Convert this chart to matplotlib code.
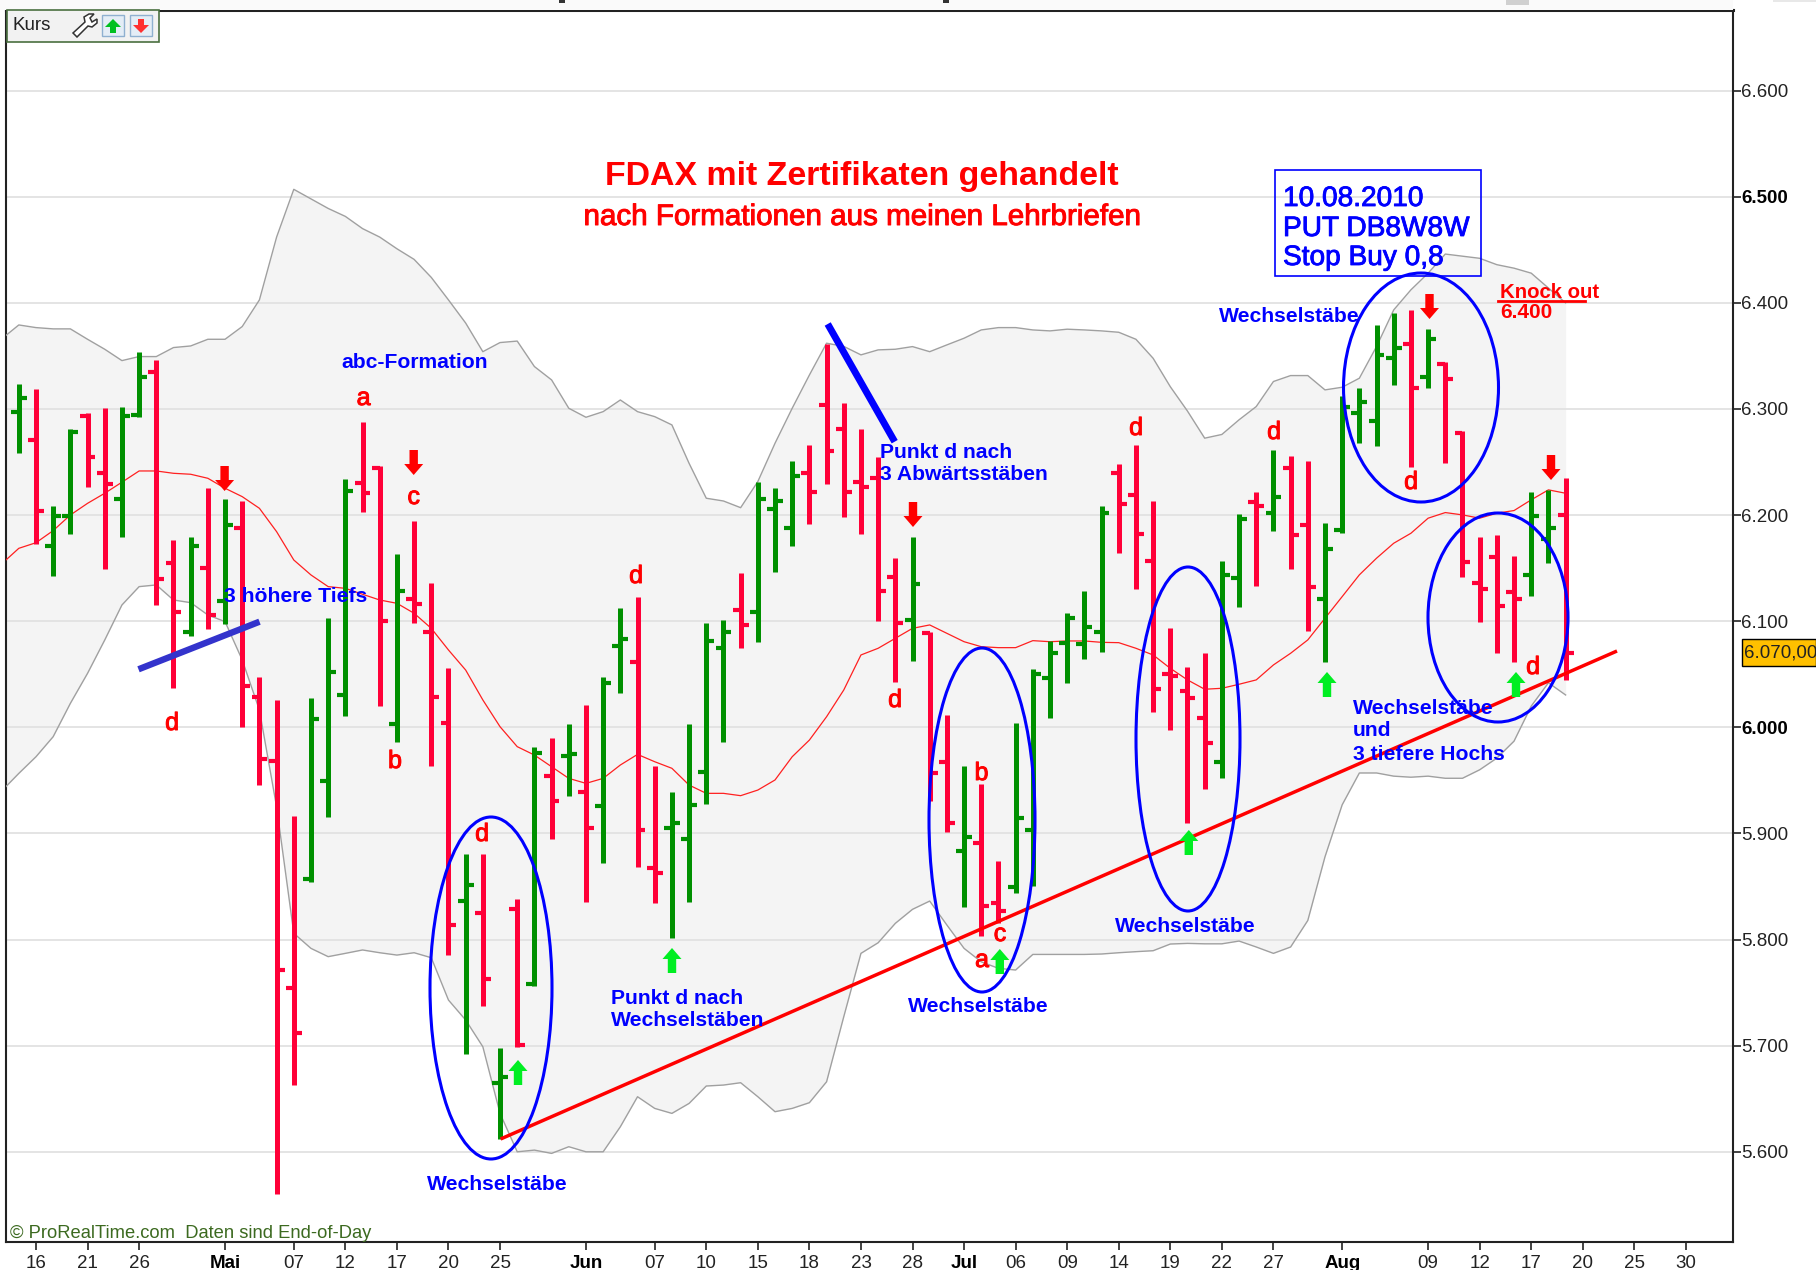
import matplotlib
matplotlib.use("Agg")
import matplotlib.pyplot as plt
import matplotlib.patheffects as pe
from matplotlib.patches import Ellipse, Polygon, Rectangle
import numpy as np

plt.rcParams['font.family'] = ['Liberation Sans', 'DejaVu Sans']

# daily bars, FDAX, 15.04. - 19.08.2010
high = [6323.6, 6318.6, 6209.0, 6280.9, 6296.0, 6300.7, 6301.6, 6354.0, 6346.2, 6176.6,
        6179.7, 6225.3, 6215.2, 6213.7, 6047.1, 6025.8, 5916.8, 6028.0, 6103.0, 6233.8,
        6287.5, 6246.6, 6163.4, 6194.5, 6135.7, 6055.6, 5880.6, 5880.6, 5698.1, 5838.2,
        5981.8, 5989.6, 6003.1, 6021.0, 6047.1, 6112.2, 6122.5, 5963.9, 5939.4, 6003.1,
        6098.0, 6101.2, 6145.2, 6231.6, 6225.3, 6251.4, 6266.1, 6361.3, 6305.4, 6280.9,
        6254.5, 6159.9, 6179.7, 6090.2, 6011.6, 5963.9, 5947.0, 5874.4, 6004.4, 6055.0,
        6081.7, 6107.5, 6128.8, 6209.0, 6248.2, 6266.1, 6213.7, 6093.3, 6057.2, 6070.4,
        6157.2, 6200.8, 6222.2, 6261.5, 6256.1, 6251.4, 6193.0, 6312.4, 6320.2, 6379.3,
        6390.3, 6393.4, 6375.5, 6344.0, 6278.8, 6179.8, 6181.4, 6161.9, 6222.2, 6223.2,
        6235.4]
low = [6258.9, 6172.8, 6143.0, 6182.2, 6226.2, 6149.6, 6179.0, 6292.0, 6115.6, 6036.8,
       6086.1, 6092.4, 6097.4, 6000.6, 5945.6, 5559.8, 5662.9, 5854.6, 5915.8, 6010.7,
       6203.3, 6020.1, 5986.2, 6098.7, 5963.6, 5785.4, 5692.1, 5737.7, 5612.0, 5699.0,
       5756.5, 5894.5, 5935.6, 5835.7, 5871.9, 6032.0, 5868.7, 5834.1, 5801.8, 5835.7,
       5927.8, 5986.5, 6074.5, 6080.7, 6146.1, 6170.9, 6191.7, 6229.4, 6198.6, 6181.9,
       6100.2, 6043.0, 6062.8, 5930.9, 5901.0, 5831.0, 5803.4, 5815.3, 5844.2, 5850.5,
       6009.1, 6041.5, 6064.4, 6071.0, 6164.0, 6130.0, 6014.1, 5997.5, 5909.5, 5941.9,
       5952.0, 6113.2, 6133.3, 6185.1, 6149.3, 6090.9, 6061.3, 6183.6, 6268.4, 6265.3,
       6322.7, 6245.8, 6319.6, 6248.9, 6141.5, 6099.0, 6069.8, 6061.3, 6123.9, 6154.7,
       6044.7]
open_ = [6297.2, 6270.8, 6171.2, 6199.2, 6293.8, 6240.0, 6215.2, 6294.4, 6334.6, 6155.2,
         6089.5, 6150.5, 6119.4, 6187.6, 6028.9, 5968.6, 5754.7, 5857.4, 5949.4, 6030.5,
         6230.6, 6244.8, 6003.1, 6121.0, 6089.5, 6004.4, 5836.7, 5824.7, 5665.1, 5828.5,
         5758.1, 5954.1, 5973.0, 5939.3, 5926.2, 6076.7, 6061.9, 5867.5, 5905.5, 5894.8,
         5957.6, 6075.1, 6110.6, 6109.0, 6205.5, 6187.6, 6240.0, 6303.5, 6280.9, 6231.6,
         6234.7, 6142.0, 6101.2, 6089.2, 5967.0, 5883.8, 5890.7, 5834.8, 5849.9, 5903.3,
         6046.2, 6079.2, 6078.6, 6089.9, 6240.0, 6219.0, 6156.8, 6050.0, 6034.3, 6009.2,
         5967.0, 6140.5, 6212.8, 6202.4, 6244.8, 6190.8, 6120.7, 6186.1, 6296.0, 6288.8,
         6347.9, 6361.1, 6330.6, 6342.2, 6277.8, 6135.8, 6160.3, 6127.3, 6143.7, 6177.3,
         6200.2]
close = [6310.4, 6204.2, 6199.2, 6278.7, 6254.5, 6229.0, 6293.5, 6329.9, 6140.1, 6109.0,
         6171.2, 6105.9, 6191.0, 6039.0, 5970.1, 5771.3, 5712.2, 6007.8, 6051.8, 6222.8,
         6220.6, 6100.5, 6128.8, 6115.9, 6028.9, 5813.7, 5851.1, 5762.8, 5670.1, 5700.6,
         5976.1, 5930.9, 5975.0, 5904.8, 6042.0, 6083.0, 5903.3, 5863.0, 5910.2, 5926.5,
         6081.7, 6089.5, 6096.5, 6215.2, 6213.7, 6236.9, 6222.1, 6260.8, 6222.1, 6226.9,
         6128.8, 6098.0, 6135.1, 5957.3, 5910.2, 5897.0, 5831.6, 5826.9, 5914.9, 6050.0,
         6069.8, 6102.8, 6094.9, 6202.3, 6210.5, 6182.2, 6035.8, 6048.0, 6027.4, 5985.0,
         6143.7, 6196.1, 6208.7, 6217.5, 6181.4, 6132.0, 6168.2, 6302.3, 6307.0, 6350.7,
         6357.9, 6320.2, 6366.1, 6328.1, 6156.2, 6130.5, 6114.4, 6120.7, 6199.3, 6187.6,
         6069.8]

# bollinger bands and their average, these start one bar before the first visible bar
upper = [6366.0, 6379.2, 6376.7, 6375.5, 6375.5, 6365.7, 6356.3, 6345.6, 6349.4, 6349.4, 6357.9,
         6359.4, 6365.7, 6365.7, 6377.7, 6402.8, 6462.0, 6507.0, 6498.0, 6489.0, 6481.5,
         6470.0, 6462.0, 6451.0, 6441.0, 6424.0, 6402.8, 6381.0, 6354.0, 6362.6, 6364.0,
         6340.0, 6327.4, 6300.7, 6292.2, 6297.5, 6308.5, 6297.5, 6292.8, 6285.0, 6248.8,
         6215.9, 6213.3, 6207.0, 6231.6, 6267.7, 6300.7, 6332.0, 6362.0, 6359.0, 6351.0,
         6355.7, 6356.3, 6358.8, 6354.0, 6360.4, 6366.7, 6374.5, 6376.7, 6376.7, 6374.5,
         6373.6, 6375.2, 6374.5, 6373.6, 6372.3, 6365.7, 6347.8, 6321.0, 6298.0, 6272.5,
         6276.0, 6289.8, 6302.3, 6325.9, 6331.5, 6331.5, 6318.0, 6320.5, 6329.0, 6358.9,
         6393.4, 6412.3, 6428.0, 6446.0, 6444.0, 6442.0, 6436.0, 6432.7, 6428.0, 6414.0,
         6400.0]
lower = [5940.0, 5956.6, 5972.3, 5991.2, 6022.6, 6050.9, 6082.3, 6115.3, 6132.6, 6134.2, 6120.0,
         6117.5, 6105.9, 6099.6, 6063.5, 6016.3, 5925.0, 5805.9, 5791.7, 5783.9, 5787.0,
         5790.2, 5787.6, 5785.4, 5787.6, 5782.9, 5743.0, 5724.2, 5699.0, 5636.2, 5600.0,
         5601.6, 5598.5, 5604.8, 5600.0, 5600.0, 5623.6, 5651.9, 5640.9, 5636.2, 5645.6,
         5662.0, 5662.9, 5665.1, 5651.9, 5637.8, 5640.9, 5646.3, 5666.0, 5727.3, 5787.0,
         5797.0, 5815.3, 5828.5, 5836.3, 5813.7, 5791.7, 5779.0, 5772.9, 5771.3, 5786.0,
         5786.0, 5786.0, 5786.0, 5786.4, 5787.6, 5788.6, 5789.5, 5795.8, 5796.4, 5796.0,
         5796.0, 5798.6, 5793.0, 5787.0, 5793.0, 5818.0, 5878.0, 5927.0, 5957.0, 5957.0,
         5954.0, 5953.0, 5954.0, 5952.0, 5952.0, 5960.0, 5971.0, 5987.0, 6020.0, 6042.0,
         6030.5]
ma20 = [6154.0, 6168.7, 6174.0, 6185.4, 6200.1, 6211.1, 6220.6, 6231.0, 6241.6, 6241.6, 6239.4,
        6238.5, 6234.7, 6225.3, 6217.4, 6206.4, 6184.4, 6157.7, 6143.6, 6132.6, 6131.0,
        6125.4, 6120.0, 6116.9, 6107.5, 6093.3, 6072.9, 6054.0, 6025.8, 6000.6, 5981.8,
        5973.9, 5962.9, 5951.9, 5947.2, 5951.9, 5964.5, 5974.5, 5967.6, 5961.4, 5945.6,
        5937.8, 5937.8, 5935.6, 5940.9, 5950.4, 5972.3, 5988.0, 6010.0, 6035.2, 6068.2,
        6074.5, 6083.9, 6093.3, 6096.5, 6088.6, 6080.7, 6076.0, 6075.1, 6075.1, 6081.7,
        6080.7, 6081.4, 6081.4, 6080.1, 6079.8, 6074.5, 6068.2, 6055.6, 6044.7, 6035.9,
        6036.8, 6040.6, 6044.7, 6058.8, 6069.8, 6082.4, 6102.8, 6123.2, 6143.7, 6159.4,
        6173.5, 6182.9, 6197.1, 6202.4, 6200.2, 6197.1, 6201.8, 6204.3, 6214.4, 6223.8,
        6220.6]

price_ticks = [5600, 5700, 5800, 5900, 6000, 6100, 6200, 6300, 6400, 6500, 6600]
price_labels = ['5.600', '5.700', '5.800', '5.900', '6.000', '6.100', '6.200', '6.300', '6.400', '6.500', '6.600']
bold_prices = [6000, 6500]
date_pos = [1, 4, 7, 12, 16, 19, 22, 25, 28, 33, 37, 40, 43, 46, 49, 52, 55, 58, 61, 64, 67, 70, 73, 77, 82, 85, 88, 91, 94, 97]
date_labels = ['16', '21', '26', 'Mai', '07', '12', '17', '20', '25', 'Jun', '07', '10', '15', '18', '23', '28',
               'Jul', '06', '09', '14', '19', '22', '27', 'Aug', '09', '12', '17', '20', '25', '30']
months = ['Mai', 'Jun', 'Jul', 'Aug']

RED = '#ff0038'
GREEN = '#009000'
BLUE = '#0000ff'

W, H = 1816, 1270
fig = plt.figure(figsize=(W / 100, H / 100), dpi=100, facecolor='white')
fig.patches.append(Rectangle((0, 1 - 10 / H), 1733 / W, 10 / H, transform=fig.transFigure, color='#fafafa', lw=0))

ax = fig.add_axes([6 / W, 1 - 1242 / H, (1733 - 6) / W, (1242 - 10) / H])
ax.set_xlim(-0.745, 99.74)
ax.set_ylim(5515, 6676)

x = np.arange(len(high))
band_x = np.arange(-1, len(high))
ax.fill_between(band_x, lower, upper, color='#f4f4f4', lw=0, zorder=1)
for val in price_ticks:
    ax.axhline(val, color='#e2e2e2', lw=1.3, zorder=2)
ax.plot(band_x, upper, color='#a0a0a0', lw=1.0, zorder=3)
ax.plot(band_x, lower, color='#a0a0a0', lw=1.0, zorder=3)
ax.plot(band_x, ma20, color='#ff2020', lw=0.9, zorder=3)

colors = [GREEN if c > o else RED for o, c in zip(open_, close)]
ax.vlines(x, low, high, colors=colors, lw=3.6, capstyle='butt', zorder=4)
ax.hlines(open_, x - 0.46, x, colors=colors, lw=3.0, capstyle='butt', zorder=4)
ax.hlines(close, x, x + 0.46, colors=colors, lw=3.0, capstyle='butt', zorder=4)

for side in ['left', 'right', 'bottom']:
    ax.spines[side].set_linewidth(1.5)
    ax.spines[side].set_color('#222222')
ax.spines['top'].set_linewidth(2.2)
ax.spines['top'].set_color('#222222')

ax.yaxis.tick_right()
ax.set_yticks(price_ticks)
ax.set_yticklabels(price_labels, fontsize=13.5, color='#222222')
for lab, val in zip(ax.get_yticklabels(), price_ticks):
    if val in bold_prices:
        lab.set_fontweight('bold')
        lab.set_color('black')
ax.tick_params(axis='y', length=5.5, width=1.2, pad=0.5, color='#222222')
ax.set_xticks(date_pos)
ax.set_xticklabels(date_labels, fontsize=13.5, color='#222222')
for lab, name in zip(ax.get_xticklabels(), date_labels):
    if name in months:
        lab.set_fontweight('bold')
        lab.set_color('black')
ax.tick_params(axis='x', length=5.5, width=1.2, pad=3.5, color='#222222')

# everything drawn by hand on the chart goes on a pixel overlay
ov = fig.add_axes([0, 0, 1, 1], facecolor='none', zorder=10)
ov.set_xlim(0, W)
ov.set_ylim(H, 0)
ov.axis('off')

heavy = [pe.withStroke(linewidth=0.7, foreground='#ff0000')]
heavy_blue = [pe.withStroke(linewidth=0.6, foreground=BLUE)]

ov.plot([500.6, 1617], [1139, 651], color='#ff0000', lw=2.5, solid_capstyle='butt', zorder=2)
ov.plot([138.5, 259.5], [669.3, 621.7], color='#3333cc', lw=4.6, solid_capstyle='butt', zorder=2)
ov.plot([827.7, 894.7], [324, 441.7], color=BLUE, lw=5, solid_capstyle='butt', zorder=2)
ov.plot([1498, 1585], [300.5, 300.5], color='#ff0000', lw=2, zorder=2)

rings = [(491, 988, 122, 342), (982, 820, 106, 344), (1188, 739, 104, 344),
         (1421, 387.5, 155, 229), (1498, 617.5, 140, 209)]
for cx, cy, w, h in rings:
    ov.add_patch(Ellipse((cx, cy), w, h, fill=False, ec=BLUE, lw=2.2, zorder=3))


def arrow(px, top, up, color):
    hw, sw, hh, bottom = 9.5, 4.2, 11, top + 25
    if up:
        pts = [(px, top), (px + hw, top + hh), (px + sw, top + hh), (px + sw, bottom),
               (px - sw, bottom), (px - sw, top + hh), (px - hw, top + hh)]
    else:
        pts = [(px, bottom), (px + hw, bottom - hh), (px + sw, bottom - hh), (px + sw, top),
               (px - sw, top), (px - sw, bottom - hh), (px - hw, bottom - hh)]
    ov.add_patch(Polygon(pts, closed=True, color=color, lw=0, zorder=4))


for px, top in [(224.6, 466), (413.7, 450), (913, 502), (1429.5, 294), (1551, 455)]:
    arrow(px, top, False, '#ff0000')
for px, top in [(518, 1060), (672, 948), (999.8, 949), (1188.8, 830), (1327, 672), (1516, 672)]:
    arrow(px, top, True, '#00ee22')

letters = [('a', 363.6, 398), ('c', 413.7, 497), ('d', 172, 723), ('b', 395, 761), ('d', 482, 834),
           ('d', 636, 576), ('d', 895, 700), ('d', 1136, 428), ('b', 981.5, 773), ('a', 982, 960),
           ('c', 1000, 934), ('d', 1274, 432), ('d', 1411, 482), ('d', 1533, 667)]
for s, px, py in letters:
    ov.text(px, py, s, color='#ff0000', fontsize=18, ha='center', va='center', zorder=5, path_effects=heavy)

blue_notes = [('abc-Formation', 341, 362), ('3 höhere Tiefs', 224, 596), ('Wechselstäbe', 427, 1185),
              ('Punkt d nach', 611, 998), ('Wechselstäben', 611, 1021), ('Punkt d nach', 880.5, 452),
              ('3 Abwärtsstäben', 880.5, 474), ('Wechselstäbe', 908, 1006), ('Wechselstäbe', 1115, 927),
              ('Wechselstäbe', 1219, 317), ('Wechselstäbe', 1353, 708), ('und', 1353, 731),
              ('3 tiefere Hochs', 1353, 754)]
for s, px, py in blue_notes:
    ov.text(px, py, s, color=BLUE, fontsize=15.2, fontweight='bold', ha='left', va='center', zorder=5)

ov.text(862, 176, 'FDAX mit Zertifikaten gehandelt', color='#ff0000', fontsize=24.4, fontweight='bold',
        ha='center', va='center', zorder=5)
ov.text(862.5, 217, 'nach Formationen aus meinen Lehrbriefen', color='#ff0000', fontsize=21.3,
        ha='center', va='center', zorder=5, path_effects=heavy)
ov.text(1500, 292, 'Knock out', color='#ff0000', fontsize=14.7, fontweight='bold', ha='left', va='center', zorder=5)
ov.text(1500, 313, '6.400', color='#ff0000', fontsize=15, fontweight='bold', ha='left', va='center', zorder=5)

ov.add_patch(Rectangle((1275, 170), 206, 106, fill=False, ec=BLUE, lw=1.2, zorder=5))
for s, py in [('10.08.2010', 199), ('PUT DB8W8W', 229), ('Stop Buy 0,8', 258)]:
    ov.text(1283, py, s, color=BLUE, fontsize=20.2, ha='left', va='center', zorder=6, path_effects=heavy_blue)

ov.text(10, 1234, '© ProRealTime.com  Daten sind End-of-Day', color='#3c6a20', fontsize=13.2, ha='left', va='center', zorder=5)

# current price tag
ov.add_patch(Rectangle((1742, 639), 74, 27, fc='#ffc000', ec='black', lw=1, zorder=5, clip_on=False))
ov.text(1744, 653, '6.070,00', color='#222222', fontsize=13.5, ha='left', va='center', zorder=6, clip_on=True)

# header box top left
ov.add_patch(Rectangle((6.5, 10), 152.5, 32, fc='#f2f2f2', ec='#4a7040', lw=1.2, zorder=5))
ov.text(12, 26, 'Kurs', color='#222222', fontsize=13.5, ha='left', va='center', zorder=6)
wrench = [(73, 33), (85, 22), (84, 17), (89, 14), (94, 14), (90, 18), (92, 22), (97, 19),
          (97, 23), (92, 27), (88, 26), (77, 37)]
ov.add_patch(Polygon(wrench, closed=True, fc='white', ec='#333333', lw=1.1, zorder=6))
for left, col, up in [(102, '#00c020', True), (130, '#ff3030', False)]:
    ov.add_patch(Rectangle((left, 15), 22, 21, fc='#e4edf6', ec='#8fb0d0', lw=1, zorder=6))
    cx = left + 11
    if up:
        pts = [(cx, 19), (cx + 8, 27), (cx + 3, 27), (cx + 3, 33), (cx - 3, 33), (cx - 3, 27), (cx - 8, 27)]
    else:
        pts = [(cx, 33), (cx + 8, 25), (cx + 3, 25), (cx + 3, 19), (cx - 3, 19), (cx - 3, 25), (cx - 8, 25)]
    ov.add_patch(Polygon(pts, closed=True, color=col, lw=0, zorder=7))

# cut off header bits along the top edge
ov.add_patch(Rectangle((559, 0), 6, 3, fc='#333333', lw=0))
ov.add_patch(Rectangle((943, 0), 6, 3, fc='#333333', lw=0))
ov.add_patch(Rectangle((1506, 0), 23, 5, fc='#d0d0d0', lw=0))
ov.add_patch(Rectangle((1773, 0), 43, 2, fc='#e8e8e8', lw=0))

plt.savefig('out.png', dpi=100)
